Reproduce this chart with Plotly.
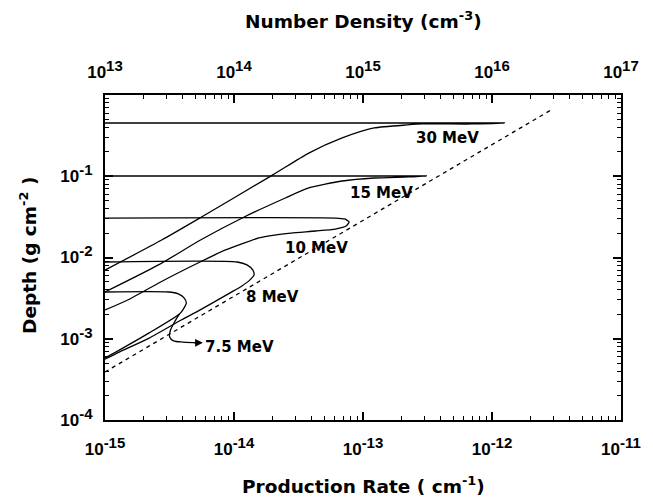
import plotly.graph_objects as go
import math

# ---------------- data ----------------
rate_ticks = [1e-15, 1e-14, 1e-13, 1e-12, 1e-11]
rate_exps = ["-15", "-14", "-13", "-12", "-11"]
density_ticks = [1e13, 1e14, 1e15, 1e16, 1e17]
density_exps = ["13", "14", "15", "16", "17"]
depth_ticks = [1e-4, 1e-3, 1e-2, 1e-1]
depth_exps = ["-4", "-3", "-2", "-1"]

rate30 = [1.0e-15, 1.25e-12, 7.0e-13, 2.9e-13, 2.2e-13, 1.22e-13, 6.9e-14, 3.8e-14, 2.0e-14, 5.6e-15, 2.75e-15, 1.0e-15]
depth30 = [0.452, 0.452, 0.44, 0.44, 0.428, 0.393, 0.296, 0.193, 0.104, 0.0315, 0.0164, 0.0070]

rate15 = [1.0e-15, 3.1e-13, 2.25e-13, 1.22e-13, 6.9e-14, 3.8e-14, 2.5e-14, 1.2e-14, 5.5e-15, 2.6e-15, 1.0e-15]
depth15 = [0.1007, 0.1007, 0.098, 0.0951, 0.0874, 0.0717, 0.054, 0.0315, 0.0164, 0.0081, 0.00376]

rate10 = [1.0e-15, 6.1e-14, 7.2e-14, 7.8e-14, 7.4e-14, 6.1e-14, 4.3e-14, 2.77e-14, 2.06e-14, 1.56e-14, 8.6e-15, 5.45e-15, 2.7e-15, 1.5e-15, 1.0e-15]
depth10 = [0.0306, 0.0306, 0.0298, 0.0274, 0.0244, 0.0224, 0.0212, 0.020, 0.0189, 0.0174, 0.0124, 0.0088, 0.0050, 0.0030, 0.00226]

rate8 = [1.0e-15, 1.06e-14, 1.26e-14, 1.40e-14, 1.43e-14, 1.33e-14, 1.16e-14, 9.4e-15, 5.3e-15, 3.9e-15, 2.2e-15, 1.3e-15, 1.0e-15]
depth8 = [0.0088, 0.0088, 0.0081, 0.0070, 0.0061, 0.0053, 0.0045, 0.0037, 0.0022, 0.0017, 0.00102, 0.00069, 0.00056]

rate75 = [1.0e-15, 3.1e-15, 3.7e-15, 4.1e-15, 4.27e-15, 4.05e-15, 3.78e-15, 2.2e-15, 1.3e-15, 1.0e-15]
depth75 = [0.00376, 0.00376, 0.00356, 0.00318, 0.00275, 0.00232, 0.00202, 0.00118, 0.00073, 0.00058]

# leader line of the "7.5 MeV" label
lead_rate = [3.78e-15, 3.46e-15, 3.22e-15, 3.17e-15, 3.40e-15, 4.05e-15, 5.3e-15]
lead_depth = [0.00202, 0.00161, 0.00128, 0.00105, 0.00094, 0.00091, 0.00089]

# dotted limit line
limit_rate = [1.0e-15, 2.85e-12]
limit_depth = [3.9e-4, 0.65]

labels = ["30 MeV", "15 MeV", "10 MeV", "8 MeV", "7.5 MeV"]
label_rate = [4.54e-13, 1.38e-13, 4.36e-14, 1.99e-14, 1.11e-14]
label_depth = [0.296, 0.0622, 0.0131, 0.00327, 0.00079]

# ---------------- figure ----------------
TICKFAM = "Liberation Sans, Arial, sans-serif"
TEXTFAM = "DejaVu Sans, Verdana, sans-serif"

def power_label(e):
    return "10<sup><span style='font-size:15px'>" + e + "</span></sup>"

fig = go.Figure()
for r, d in [(rate30, depth30), (rate15, depth15), (rate10, depth10), (rate8, depth8), (rate75, depth75)]:
    fig.add_trace(go.Scatter(x=r, y=d, mode="lines",
                             line=dict(color="black", width=1.3, shape="spline", smoothing=0.6),
                             showlegend=False, hoverinfo="skip"))
fig.add_trace(go.Scatter(x=lead_rate, y=lead_depth, mode="lines",
                         line=dict(color="black", width=1.3, shape="spline", smoothing=0.8),
                         showlegend=False, hoverinfo="skip"))
fig.add_trace(go.Scatter(x=limit_rate, y=limit_depth, mode="lines",
                         line=dict(color="black", width=1.3, dash="4px,4px"),
                         showlegend=False, hoverinfo="skip"))
# top axis carrier (number density)
fig.add_trace(go.Scatter(x=[density_ticks[0], density_ticks[-1]], y=[depth_ticks[0], depth_ticks[0]],
                         xaxis="x2", yaxis="y", mode="markers", marker=dict(opacity=0),
                         showlegend=False, hoverinfo="skip"))

tickfont = dict(family=TICKFAM, size=17, color="black", weight="bold")

def minor_vals(e0, e1):
    return [m * 10.0 ** e for e in range(e0, e1) for m in range(2, 10)]

def minor_cfg(e0, e1):
    return dict(tickmode="array", tickvals=minor_vals(e0, e1), ticks="inside",
                ticklen=4, tickwidth=1, tickcolor="black", showgrid=False)

axis_common = dict(type="log", showgrid=False, zeroline=False, showline=True,
                   linecolor="black", linewidth=2, ticks="inside", ticklen=8, tickwidth=1.5,
                   tickcolor="black", tickfont=tickfont, tickmode="array")

fig.update_layout(
    width=645, height=490,
    margin=dict(l=97, r=21, t=87, b=78),
    paper_bgcolor="white", plot_bgcolor="white",
    xaxis=dict(axis_common, range=[-15, -11], tickvals=rate_ticks,
               ticktext=[power_label(e) for e in rate_exps], ticklabelstandoff=13,
               minor=minor_cfg(-15, -11)),
    xaxis2=dict(axis_common, range=[13, 17], tickvals=density_ticks,
                ticktext=[power_label(e) for e in density_exps], ticklabelstandoff=8,
                overlaying="x", side="top", anchor="y", minor=minor_cfg(13, 17)),
    yaxis=dict(axis_common, range=[-4, 0], tickvals=depth_ticks,
               ticktext=[power_label(e) for e in depth_exps], ticklabelstandoff=7,
               mirror="ticks", minor=minor_cfg(-4, 0)),
)

label_font = dict(family=TEXTFAM, size=15, color="black", weight="bold")
for t, r, d in zip(labels, label_rate, label_depth):
    fig.add_annotation(x=math.log10(r), y=math.log10(d), text=t, showarrow=False,
                       font=label_font, xanchor="center", yanchor="middle")

# arrow head of the 7.5 MeV leader
fig.add_annotation(x=math.log10(5.74e-15), y=math.log10(0.00089), ax=-10, ay=0, text="",
                   showarrow=True, arrowhead=2, arrowsize=1.2, arrowwidth=1.3, arrowcolor="black")

title_font = dict(family=TEXTFAM, size=18.5, color="black", weight="bold")
fig.add_annotation(xref="paper", yref="paper", x=0.5, y=0, yshift=-65,
                   text="Production Rate ( cm<sup>-1</sup>)",
                   showarrow=False, font=title_font, xanchor="center", yanchor="middle")
fig.add_annotation(xref="paper", yref="paper", x=0.5, y=1, yshift=75,
                   text="Number Density (cm<sup>-3</sup>)",
                   showarrow=False, font=title_font, xanchor="center", yanchor="middle")
fig.add_annotation(xref="paper", yref="paper", x=0, y=0.505, xshift=-77,
                   text="Depth (g cm<sup>-2</sup> )",
                   showarrow=False, font=title_font, textangle=-90, xanchor="center", yanchor="middle")

fig.write_html("out.html")
